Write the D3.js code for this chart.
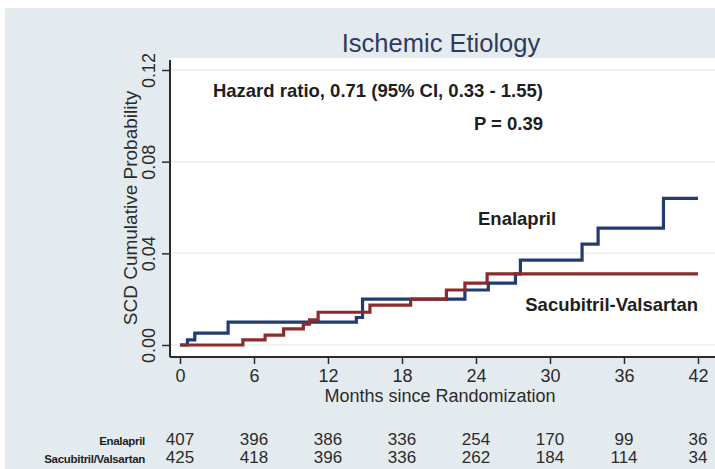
<!DOCTYPE html>
<html>
<head>
<meta charset="utf-8">
<script src="https://cdn.jsdelivr.net/npm/d3@7"></script>
<style>
  body { margin: 0; background: #fff; }
  svg { display: block; font-family: "Liberation Sans", Arial, Helvetica, sans-serif; }
</style>
</head>
<body>
<div id="chart"></div>
<script>
// step curves: [month, cumulative probability]
var enalaprilSteps = [
  [0, 0], [0.6, 0.0022], [1.2, 0.0052], [3.9, 0.010], [14.3, 0.012], [14.8, 0.020],
  [23.1, 0.024], [25.0, 0.027], [27.2, 0.031], [27.6, 0.037], [32.6, 0.044],
  [33.9, 0.051], [39.2, 0.064], [42, 0.064]
];
var sacubitrilSteps = [
  [0, 0], [5.1, 0.0022], [6.9, 0.0043], [8.4, 0.0070], [10.0, 0.0091], [10.5, 0.011],
  [11.2, 0.0143], [15.4, 0.0174], [18.7, 0.020], [21.6, 0.024], [23.1, 0.027],
  [24.9, 0.031], [42, 0.031]
];

// axes
var monthTicks = [0, 6, 12, 18, 24, 30, 36, 42];
var probTicks = [0, 0.04, 0.08, 0.12];

// number at risk
var riskLabels = ["Enalapril", "Sacubitril/Valsartan"];
var enalaprilAtRisk = [407, 396, 386, 336, 254, 170, 99, 36];
var sacubitrilAtRisk = [425, 418, 396, 336, 262, 184, 114, 34];

(function () {
  "use strict";
  var W = 715, H = 469;
  var blue = "#223b70", red = "#8c2b2b", ink = "#2b2b2b", bold = "#1e1e1e";

  var svg = d3.select("#chart").append("svg").attr("width", W).attr("height", H);

  // outer panel and white plot region
  svg.append("rect").attr("x", 5).attr("y", 8).attr("width", W - 5).attr("height", H - 8)
      .attr("fill", "#e4ebee");
  svg.append("rect").attr("x", 171).attr("y", 58).attr("width", W - 171).attr("height", 299)
      .attr("fill", "#fff");

  var x = d3.scaleLinear().domain([0, 42]).range([180, 698]);
  var y = d3.scaleLinear().domain([0, 0.12]).range([345, 70]);

  // faint grid
  svg.selectAll(".grid").data(probTicks).enter().append("line")
      .attr("class", "grid")
      .attr("x1", 171).attr("x2", W)
      .attr("y1", function (d) { return y(d); })
      .attr("y2", function (d) { return y(d); })
      .attr("stroke", "#e9eef0").attr("stroke-width", 1.5);

  // y axis
  var yAxis = svg.append("g").attr("transform", "translate(170,0)")
      .call(d3.axisLeft(y).tickValues(probTicks).tickSize(8).tickFormat(d3.format(".2f")));
  yAxis.select(".domain").attr("d", "M0,60V357").attr("stroke", ink).attr("stroke-width", 2);
  yAxis.selectAll(".tick line").attr("stroke", ink).attr("stroke-width", 1.5);
  yAxis.selectAll(".tick text")
      .attr("x", 0).attr("dy", 0)
      .attr("transform", "translate(-15,0) rotate(-90)")
      .attr("text-anchor", "middle")
      .attr("font-size", 18).attr("fill", ink)
      .attr("font-family", "Liberation Sans, Arial, sans-serif");

  // x axis
  var xAxis = svg.append("g").attr("transform", "translate(0,357)")
      .call(d3.axisBottom(x).tickValues(monthTicks).tickSize(7));
  xAxis.select(".domain").attr("d", "M170,0H715").attr("stroke", ink).attr("stroke-width", 2);
  xAxis.selectAll(".tick line").attr("stroke", ink).attr("stroke-width", 1.5);
  xAxis.selectAll(".tick text")
      .attr("y", 25).attr("dy", 0)
      .attr("font-size", 18).attr("fill", ink)
      .attr("font-family", "Liberation Sans, Arial, sans-serif");

  // axis titles
  svg.append("text")
      .attr("transform", "translate(137,208) rotate(-90)")
      .attr("text-anchor", "middle").attr("font-size", 19).attr("fill", ink)
      .text("SCD Cumulative Probability");
  svg.append("text")
      .attr("x", 440).attr("y", 402)
      .attr("text-anchor", "middle").attr("font-size", 18).attr("fill", ink)
      .text("Months since Randomization");

  // title
  svg.append("text")
      .attr("x", 441).attr("y", 52)
      .attr("text-anchor", "middle").attr("font-size", 25.5).attr("fill", "#2e3a5e")
      .text("Ischemic Etiology");

  // curves
  var line = d3.line()
      .x(function (d) { return x(d[0]); })
      .y(function (d) { return y(d[1]); })
      .curve(d3.curveStepAfter);
  svg.append("path").datum(enalaprilSteps).attr("d", line)
      .attr("fill", "none").attr("stroke", blue).attr("stroke-width", 3.2);
  svg.append("path").datum(sacubitrilSteps).attr("d", line)
      .attr("fill", "none").attr("stroke", red).attr("stroke-width", 3.2);

  // annotations
  svg.append("text")
      .attr("x", 543).attr("y", 97).attr("text-anchor", "end")
      .attr("font-size", 18.5).attr("font-weight", "bold").attr("fill", bold)
      .text("Hazard ratio, 0.71 (95% CI, 0.33 - 1.55)");
  svg.append("text")
      .attr("x", 543).attr("y", 130).attr("text-anchor", "end")
      .attr("font-size", 18.5).attr("font-weight", "bold").attr("fill", bold)
      .text("P = 0.39");
  svg.append("text")
      .attr("x", 478).attr("y", 225)
      .attr("font-size", 18.5).attr("font-weight", "bold").attr("fill", bold)
      .text("Enalapril");
  svg.append("text")
      .attr("x", 698).attr("y", 311).attr("text-anchor", "end")
      .attr("font-size", 18.5).attr("font-weight", "bold").attr("fill", bold)
      .text("Sacubitril-Valsartan");

  // number at risk table
  var rows = [enalaprilAtRisk, sacubitrilAtRisk];
  var rowY = [445, 463];
  rows.forEach(function (vals, r) {
    svg.append("text")
        .attr("x", 145).attr("y", rowY[r]).attr("text-anchor", "end")
        .attr("font-size", 11.5).attr("font-weight", "bold").attr("fill", bold)
        .attr("letter-spacing", -0.3)
        .text(riskLabels[r]);
    svg.selectAll(".risk" + r).data(vals).enter().append("text")
        .attr("class", "risk" + r)
        .attr("x", function (d, i) { return x(monthTicks[i]); })
        .attr("y", rowY[r])
        .attr("text-anchor", "middle").attr("font-size", 17).attr("fill", ink)
        .text(function (d) { return d; });
  });
}());
</script>
</body>
</html>
